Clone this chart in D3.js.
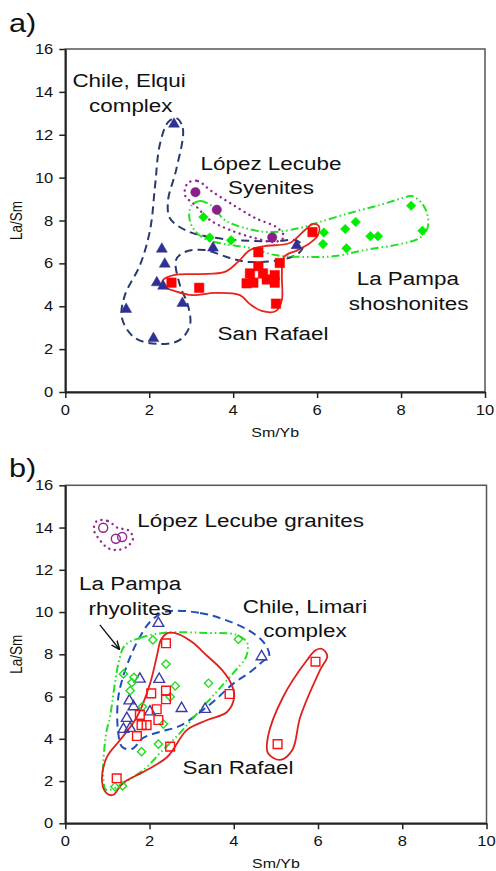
<!DOCTYPE html>
<html>
<head>
<meta charset="utf-8">
<script src="https://cdn.jsdelivr.net/npm/d3@7"></script>
<style>
  body { margin: 0; background: #fff; }
  text { font-family: "Liberation Sans", Arial, sans-serif; fill: #111; }
</style>
</head>
<body>
<svg id="chart" width="496" height="871"></svg>
<script>
// ---- data (Sm/Yb, La/Sm) ----
let xTicks = [0, 2, 4, 6, 8, 10]
let yTicks = [0, 2, 4, 6, 8, 10, 12, 14, 16]

// panel a
let elquiPts = [[2.59, 12.5], [2.30, 6.67], [2.37, 5.97], [2.18, 5.10], [2.33, 4.94], [2.79, 4.14],
                [1.45, 3.86], [2.10, 2.50], [3.52, 6.72], [5.51, 6.83]]
let sanRafaelA = [[2.53, 5.10], [3.19, 4.86], [4.60, 6.52], [5.89, 7.46], [5.11, 6.02], [4.60, 5.87],
                  [4.40, 5.53], [4.71, 5.53], [4.32, 5.07], [4.48, 5.10], [4.80, 5.25], [4.99, 5.45],
                  [4.99, 5.10], [5.02, 4.12]]
let shoshonites = [[3.29, 8.16], [3.44, 7.20], [3.95, 7.08], [6.16, 7.44], [6.67, 7.60], [6.92, 7.93],
                   [6.14, 6.90], [6.70, 6.70], [7.27, 7.27], [7.45, 7.27], [8.51, 7.52], [8.24, 8.69]]
let syenites = [[3.10, 9.32], [3.61, 8.50], [4.93, 7.21]]

let elquiField = [[2.64, 12.78], [2.80, 12.31], [2.64, 10.35], [2.45, 8.96], [2.49, 8.12], [2.85, 7.56],
                  [3.45, 7.23], [4.40, 7.05], [5.11, 7.05], [5.47, 7.09], [5.66, 6.81], [5.54, 6.44],
                  [5.11, 6.16], [4.40, 6.06], [3.92, 6.25], [3.33, 6.62], [2.85, 6.53], [2.64, 6.16],
                  [2.73, 4.99], [2.92, 4.06], [2.97, 3.12], [2.73, 2.43], [2.25, 2.24], [1.66, 2.52],
                  [1.35, 3.45], [1.42, 4.52], [1.78, 5.92], [2.02, 7.56], [2.14, 9.65], [2.25, 11.52],
                  [2.45, 12.59]]
let syeniteField = [[2.92, 9.75], [3.16, 9.84], [3.45, 9.42], [3.92, 8.82], [4.52, 8.12], [5.06, 7.65],
                    [5.21, 7.23], [4.99, 7.00], [4.52, 7.18], [3.92, 7.56], [3.45, 8.02], [3.09, 8.72],
                    [2.85, 9.19]]
let shoshoniteField = [[3.02, 8.72], [3.21, 8.91], [3.49, 8.68], [3.80, 8.02], [4.28, 7.65], [4.87, 7.46],
                       [5.59, 7.65], [6.06, 7.93], [6.78, 8.35], [7.49, 8.72], [8.04, 9.05], [8.25, 9.14],
                       [8.49, 8.82], [8.63, 8.26], [8.63, 7.65], [8.44, 7.18], [7.97, 6.90], [7.13, 6.62],
                       [6.42, 6.34], [5.71, 6.30], [4.99, 6.39], [4.40, 6.72], [3.80, 6.90], [3.33, 7.14],
                       [3.04, 7.65], [2.95, 8.26]]
let sanRafaelFieldA = [[2.33, 5.22], [2.61, 5.46], [3.21, 5.50], [3.80, 5.60], [4.11, 6.06], [4.40, 6.62],
                       [4.75, 6.81], [5.35, 6.95], [5.71, 7.56], [5.90, 7.84], [6.04, 7.74], [6.02, 7.32],
                       [5.83, 6.95], [5.54, 6.62], [5.21, 6.30], [5.16, 5.46], [5.16, 4.29], [5.02, 3.78],
                       [4.68, 3.78], [4.40, 4.10], [4.16, 4.52], [3.56, 4.62], [3.04, 4.52], [2.61, 4.71],
                       [2.33, 4.94]]

// panel b
let granites = [[0.90, 13.99], [1.20, 13.47], [1.35, 13.55]]
let limariPts = [[2.21, 9.47], [4.66, 7.89], [1.77, 6.83], [2.23, 6.82], [1.52, 5.80], [1.62, 5.52],
                 [2.01, 5.28], [1.46, 4.97], [2.76, 5.44], [3.32, 5.40], [1.38, 4.45], [1.54, 4.50]]
let rhyolites = [[2.08, 8.68], [4.11, 8.71], [2.39, 7.54], [1.38, 7.07], [1.63, 6.91], [1.58, 6.66],
                 [1.54, 6.28], [2.61, 6.50], [2.49, 5.99], [1.83, 5.52], [2.33, 4.70], [2.21, 3.75],
                 [1.81, 3.39], [3.40, 6.63], [1.18, 1.73], [1.36, 1.77]]
let sanRafaelB = [[2.39, 8.52], [2.04, 6.15], [2.39, 6.28], [2.39, 5.87], [2.17, 5.40], [1.77, 5.13],
                  [2.21, 4.89], [1.81, 4.65], [1.93, 4.65], [1.70, 4.13], [2.49, 3.63], [1.22, 2.13],
                  [3.90, 6.12], [5.94, 7.65], [5.04, 3.75]]

let graniteField = [[0.75, 14.31], [1.01, 14.31], [1.25, 13.98], [1.49, 13.88], [1.61, 13.51], [1.49, 13.13],
                    [1.25, 12.94], [1.01, 13.03], [0.82, 13.41], [0.68, 13.88]]
let limariField = [[2.37, 10.01], [3.20, 9.96], [3.79, 9.63], [4.34, 9.15], [4.72, 8.54], [4.84, 7.92],
                   [4.67, 7.64], [4.39, 7.16], [3.98, 6.60], [3.56, 5.84], [3.15, 5.18], [2.72, 4.61],
                   [2.25, 4.33], [1.85, 4.04], [1.58, 3.52], [1.35, 3.61], [1.25, 4.42], [1.25, 5.84],
                   [1.37, 6.93], [1.58, 8.06], [1.77, 8.82], [2.01, 9.53]]
let rhyoliteField = [[1.42, 8.44], [1.77, 8.77], [2.32, 9.01], [3.37, 9.01], [4.08, 8.91], [4.32, 8.53],
                     [4.29, 7.87], [4.15, 7.49], [3.67, 6.40], [3.20, 5.36], [2.72, 4.27], [2.25, 3.33],
                     [1.94, 2.67], [1.61, 2.19], [1.23, 1.72], [0.97, 1.58], [0.90, 2.24], [0.97, 4.27],
                     [1.06, 5.03], [1.18, 6.64], [1.28, 7.73]]
let sanRafaelFieldB = [[2.27, 8.68], [2.44, 9.01], [2.68, 8.96], [3.01, 8.58], [3.37, 7.92], [3.72, 7.26],
                       [3.94, 6.60], [4.01, 5.98], [3.84, 5.27], [3.37, 4.89], [2.89, 4.42], [2.42, 3.14],
                       [1.85, 2.43], [1.37, 1.91], [1.13, 1.34], [0.97, 1.44], [0.87, 2.05], [0.99, 3.14],
                       [1.30, 3.94], [1.70, 5.03], [2.01, 6.60], [2.18, 7.97]]
let sanRafaelFieldB2 = [[6.10, 8.25], [6.22, 7.92], [6.05, 7.26], [5.58, 5.04], [5.39, 3.47], [5.10, 3.00],
                        [4.81, 3.33], [4.81, 4.09], [5.17, 5.98], [5.74, 7.73], [5.95, 8.20]]

let labelsA = [['Chile, Elqui', 1.52, 14.23], ['complex', 1.56, 13.06], ['López Lecube', 4.90, 10.35],
               ['Syenites', 4.90, 9.24], ['La Pampa', 8.16, 4.99], ['shoshonites', 8.18, 3.82],
               ['San Rafael', 4.95, 2.43]]
let labelsB = [['López Lecube granites', 4.40, 14.04], ['La Pampa', 1.54, 11.04], ['rhyolites', 1.54, 9.86],
               ['Chile, Limari', 5.69, 9.94], ['complex', 5.69, 8.83], ['San Rafael', 4.10, 2.32]]
let arrowB = [[0.82, 9.39], [1.28, 8.25]]

// ---- drawing ----
let SX = 1.18
let svg = d3.select('#chart')

svg.append('defs').append('marker')
    .attr('id', 'arrow')
    .attr('viewBox', '0 0 10 10')
    .attr('refX', 9).attr('refY', 5)
    .attr('markerWidth', 7).attr('markerHeight', 7)
    .attr('orient', 'auto')
  .append('path')
    .attr('d', 'M0,1 L10,5 L0,9')
    .attr('fill', 'none')
    .attr('stroke', '#111')
    .attr('stroke-width', 1.6)

function stext(g, x, y, str, size, anchor) {
  return g.append('text')
    .attr('transform', `translate(${x},${y}) scale(${SX},1)`)
    .attr('text-anchor', anchor || 'middle')
    .style('font-size', size + 'px')
    .text(str)
}

function panel(x0, x1, y0, y1, letter, letterY) {
  let x = d3.scaleLinear().domain([0, 10]).range([x0, x1])
  let y = d3.scaleLinear().domain([0, 16]).range([y0, y1])
  let g = svg.append('g')

  g.append('rect')
    .attr('x', x0).attr('y', y1)
    .attr('width', x1 - x0).attr('height', y0 - y1)
    .attr('fill', 'none').attr('stroke', '#555').attr('stroke-width', 1.5)

  let xa = g.append('g').attr('transform', `translate(0,${y0})`)
    .call(d3.axisBottom(x).tickValues(xTicks).tickSize(6).tickSizeOuter(0).tickFormat(''))
  let ya = g.append('g').attr('transform', `translate(${x0},0)`)
    .call(d3.axisLeft(y).tickValues(yTicks).tickSize(6).tickSizeOuter(0).tickFormat(''))
  ;[xa, ya].forEach(a => {
    a.select('.domain').attr('stroke', '#222').attr('stroke-width', 2)
    a.selectAll('.tick line').attr('stroke', '#222').attr('stroke-width', 1.5)
  })
  xTicks.forEach(t => stext(g, x(t), y0 + 23, t, 14))
  yTicks.forEach(t => stext(g, x0 - 12, y(t) + 5, t, 14, 'end'))

  stext(g, (x0 + x1) / 2, y0 + 45, 'Sm/Yb', 13.5)
  g.append('text')
    .attr('transform', `translate(22,${(y0 + y1) / 2}) scale(${SX},1) rotate(-90)`)
    .attr('text-anchor', 'middle')
    .style('font-size', '13.5px')
    .text('La/Sm')
  stext(g, 9, letterY, letter, 26, 'start')
  return { g, x, y }
}

function field(p, pts, color, dash, width) {
  let line = d3.line()
    .x(d => p.x(d[0])).y(d => p.y(d[1]))
    .curve(d3.curveCatmullRomClosed.alpha(0.5))
  p.g.append('path')
    .attr('d', line(pts))
    .attr('fill', 'none')
    .attr('stroke', color)
    .attr('stroke-width', width || 2)
    .attr('stroke-dasharray', dash)
    .attr('stroke-linecap', dash && dash.startsWith('0.1') ? 'round' : 'butt')
}

function marks(p, pts, type, size, color, filled, rot) {
  p.g.selectAll(null)
    .data(pts)
    .enter()
    .append('path')
      .attr('transform', d => `translate(${p.x(d[0])},${p.y(d[1])}) rotate(${rot || 0})`)
      .attr('d', d3.symbol().type(type).size(size))
      .attr('fill', filled ? color : 'none')
      .attr('stroke', color)
      .attr('stroke-width', filled ? 0.5 : 1.4)
}

// panel a
let pa = panel(65.3, 485, 392, 49, 'a)', 32)
field(pa, elquiField, '#2b3a6e', '8 5')
field(pa, syeniteField, '#93278f', '0.1 5.5', 2.4)
field(pa, shoshoniteField, '#22e022', '8 3 1.5 3 1.5 3')
field(pa, sanRafaelFieldA, '#e8231c', null, 1.8)
marks(pa, elquiPts, d3.symbolTriangle, 52, '#2e3192', true)
marks(pa, shoshonites, d3.symbolSquare, 46, '#00ee00', true, 45)
marks(pa, syenites, d3.symbolCircle, 70, '#8b1f8a', true)
marks(pa, sanRafaelA, d3.symbolSquare, 90, '#ff0000', true)
labelsA.forEach(l => stext(pa.g, pa.x(l[1]), pa.y(l[2]), l[0], 19))

// panel b
let pb = panel(65.3, 486.5, 823.3, 485.3, 'b)', 477)
field(pb, graniteField, '#93278f', '0.1 5.5', 2.4)
field(pb, limariField, '#1f4fbf', '8 5')
field(pb, rhyoliteField, '#22e022', '8 3 1.5 3 1.5 3')
field(pb, sanRafaelFieldB, '#e0201c', null, 1.8)
field(pb, sanRafaelFieldB2, '#e0201c', null, 1.8)
marks(pb, granites, d3.symbolCircle, 64, '#93278f', false)
marks(pb, limariPts, d3.symbolTriangle, 50, '#3b3ba8', false)
marks(pb, rhyolites, d3.symbolSquare, 34, '#22dd22', false, 45)
marks(pb, sanRafaelB, d3.symbolSquare, 76, '#ff1010', false)
labelsB.forEach(l => stext(pb.g, pb.x(l[1]), pb.y(l[2]), l[0], 19))

pb.g.append('line')
    .attr('x1', pb.x(arrowB[0][0])).attr('y1', pb.y(arrowB[0][1]))
    .attr('x2', pb.x(arrowB[1][0])).attr('y2', pb.y(arrowB[1][1]))
    .attr('stroke', '#111').attr('stroke-width', 1.3)
    .attr('marker-end', 'url(#arrow)')
</script>
</body>
</html>
